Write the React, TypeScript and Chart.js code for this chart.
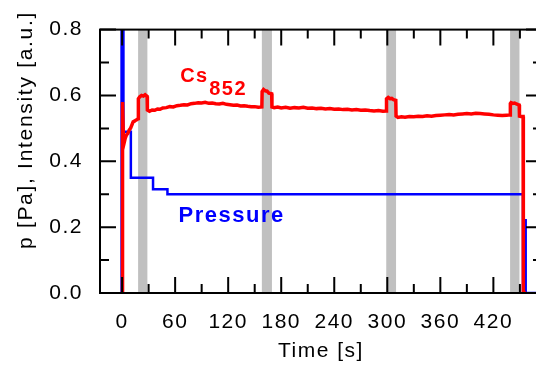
import { useEffect, useRef } from "react";
import { Chart, registerables } from "chart.js";

Chart.register(...registerables);

// ---- data ----
const redTime = [
  0.3, 0.5, 1.5, 2.3, 3.5, 5, 6.5, 8, 9.5, 11, 12.5, 14, 15.5, 17, 18.1,
  18.4, 20, 22, 24, 26, 28.3, 28.6,
  31, 34, 37, 40, 43, 46, 50, 54, 58, 62, 66, 70, 74, 78, 82, 86, 90, 94, 98,
  102, 106, 110, 114, 118, 122, 126, 130, 134, 138, 142, 146, 150, 154, 158.1,
  158.4, 160, 162, 164, 166, 168, 169.2, 169.5,
  172, 176, 180, 185, 190, 195, 200, 205, 210, 215, 220, 225, 230, 235, 240,
  245, 250, 255, 260, 265, 270, 275, 280, 285, 290, 295, 298.8,
  299.1, 301, 303, 305, 307, 309.6, 309.9,
  312, 316, 320, 325, 330, 335, 340, 345, 350, 355, 360, 365, 370, 375, 380,
  385, 390, 395, 400, 405, 410, 415, 420, 425, 430, 435, 438.9,
  439.2, 440, 442, 444, 446, 448, 449.2, 449.5,
  451, 453.6, 453.9, 457,
];
const redIntensity = [
  0, 0.58, 0.465, 0.456, 0.47, 0.48, 0.485, 0.495, 0.5, 0.51, 0.52, 0.522, 0.525, 0.527, 0.53,
  0.59, 0.596, 0.6, 0.598, 0.602, 0.597, 0.556,
  0.552, 0.556, 0.555, 0.559, 0.558, 0.562, 0.563, 0.566, 0.565, 0.569, 0.57, 0.572, 0.571, 0.575, 0.576, 0.578, 0.577, 0.579, 0.576,
  0.577, 0.575, 0.574, 0.576, 0.573, 0.572, 0.57, 0.571, 0.568, 0.569, 0.567, 0.566, 0.566, 0.564, 0.565,
  0.612, 0.618, 0.614, 0.613, 0.607, 0.606, 0.605, 0.565,
  0.563, 0.565, 0.562, 0.564, 0.561, 0.563, 0.562, 0.564, 0.561, 0.562, 0.56, 0.561, 0.559, 0.56, 0.558,
  0.559, 0.557, 0.558, 0.556, 0.557, 0.555, 0.556, 0.554, 0.553, 0.554, 0.552, 0.553,
  0.59, 0.594, 0.59, 0.591, 0.587, 0.585, 0.537,
  0.533, 0.535, 0.534, 0.536, 0.535, 0.537, 0.536, 0.538, 0.537, 0.539, 0.54, 0.541, 0.542, 0.541, 0.543,
  0.544, 0.545, 0.544, 0.546, 0.545, 0.544, 0.543, 0.541, 0.54, 0.539, 0.54, 0.541,
  0.575, 0.578, 0.576, 0.577, 0.574, 0.572, 0.571, 0.537,
  0.536, 0.536, 0, 0,
];

const pressureTime = [-0.6, -0.6, 1.5, 1.5, 9.9, 9.9, 35, 35, 51.3, 51.3, 453.5, 453.5, 456.3, 456.3, 456.8, 475];
const pressureValue = [0, 1.2, 1.2, 0.49, 0.49, 0.35, 0.35, 0.315, 0.315, 0.3, 0.3, 0, 0, 0.225, 0, 0];

const bandStart = [18.1, 158.1, 298.8, 438.9];
const bandEnd = [28.6, 169.5, 309.9, 449.5];

const xMajorTicks = [0, 60, 120, 180, 240, 300, 360, 420];
const xMinorTicks = [30, 90, 150, 210, 270, 330, 390, 450];
const yMajorTicks = [0, 0.2, 0.4, 0.6, 0.8];
const yMinorTicks = [0.1, 0.3, 0.5, 0.7];

const xMin = -25;
const xMax = 475;
const yMin = 0;
const yMax = 0.8;

const yTitle = "p [Pa], Intensity [a.u.]";
const xTitle = "Time [s]";
const csLabel = "Cs";
const csSub = "852";
const csLabelAt = { x: 65.7, y: 0.641 };
const pressureLabel = "Pressure";
const pressureLabelAt = { x: 63.8, y: 0.216 };

// ---- styling ----
const FONT = "'Liberation Sans', Arial, sans-serif";
const RED = "#ff0000";
const BLUE = "#0000ff";
const BAND = "#c0c0c0";
const SPACING = "1.5px";

const decorPlugin = {
  id: "decor",
  beforeDraw(chart: any) {
    chart.ctx.letterSpacing = SPACING;
  },
  beforeDatasetsDraw(chart: any) {
    const { ctx, chartArea, scales } = chart;
    const x = scales.x;
    ctx.save();
    ctx.fillStyle = BAND;
    for (let i = 0; i < bandStart.length; i++) {
      const a = x.getPixelForValue(bandStart[i]);
      const b = x.getPixelForValue(bandEnd[i]);
      ctx.fillRect(a, chartArea.top, b - a, chartArea.bottom - chartArea.top);
    }
    ctx.restore();
  },
  afterDatasetsDraw(chart: any) {
    const { ctx, chartArea, scales } = chart;
    const { left, right, top, bottom } = chartArea;
    const x = scales.x;
    const y = scales.y;
    const major = 16;
    const minor = 9;
    ctx.save();
    ctx.strokeStyle = "#000";
    ctx.lineWidth = 2;
    ctx.beginPath();
    const xt = (v: number, len: number) => {
      const p = x.getPixelForValue(v);
      if (p < left || p > right) return;
      ctx.moveTo(p, bottom);
      ctx.lineTo(p, bottom - len);
      ctx.moveTo(p, top);
      ctx.lineTo(p, top + len);
    };
    const yt = (v: number, len: number) => {
      const p = y.getPixelForValue(v);
      ctx.moveTo(left, p);
      ctx.lineTo(left + len, p);
      ctx.moveTo(right, p);
      ctx.lineTo(right - len, p);
    };
    xMajorTicks.forEach((v) => xt(v, major));
    xMinorTicks.forEach((v) => xt(v, minor));
    yMajorTicks.forEach((v) => yt(v, major));
    yMinorTicks.forEach((v) => yt(v, minor));
    ctx.stroke();
    ctx.strokeRect(left, top, right - left, bottom - top);

    // series labels
    ctx.letterSpacing = SPACING;
    ctx.textAlign = "left";
    ctx.textBaseline = "alphabetic";
    ctx.fillStyle = RED;
    ctx.font = `bold 20px ${FONT}`;
    const cx = x.getPixelForValue(csLabelAt.x);
    const cy = y.getPixelForValue(csLabelAt.y);
    ctx.fillText(csLabel, cx, cy);
    const w = ctx.measureText(csLabel).width;
    ctx.fillText(csSub, cx + w + 0.5, cy + 13.5);

    ctx.fillStyle = BLUE;
    ctx.font = `bold 22px ${FONT}`;
    ctx.fillText(pressureLabel, x.getPixelForValue(pressureLabelAt.x), y.getPixelForValue(pressureLabelAt.y));

    // y axis title
    ctx.fillStyle = "#000";
    ctx.font = `21px ${FONT}`;
    ctx.letterSpacing = "1.7px";
    ctx.translate(31.5, 130);
    ctx.rotate(-Math.PI / 2);
    ctx.textAlign = "center";
    ctx.fillText(yTitle, 0, 0);
    ctx.restore();
  },
};

export default function App() {
  const ref = useRef<HTMLCanvasElement>(null);
  useEffect(() => {
    const canvas = ref.current!;
    const chart = new Chart(canvas, {
      type: "line",
      data: {
        datasets: [
          {
            label: "Cs852",
            data: redTime.map((t, i) => ({ x: t, y: redIntensity[i] })),
            borderColor: RED,
            backgroundColor: RED,
            borderWidth: 3.5,
            pointRadius: 0,
            tension: 0,
            fill: false,
          },
          {
            label: "Pressure",
            data: pressureTime.map((t, i) => ({ x: t, y: pressureValue[i] })),
            borderColor: BLUE,
            backgroundColor: BLUE,
            borderWidth: 2.5,
            pointRadius: 0,
            tension: 0,
            fill: false,
          },
        ],
      },
      options: {
        responsive: false,
        animation: false,
        devicePixelRatio: 1,
        layout: { padding: { left: 0, top: 16, right: 18, bottom: 0 } },
        plugins: { legend: { display: false }, tooltip: { enabled: false } },
        scales: {
          x: {
            type: "linear",
            min: xMin,
            max: xMax,
            grid: { display: false, drawTicks: false },
            border: { display: false },
            afterBuildTicks: (s: any) => {
              s.ticks = xMajorTicks.map((value) => ({ value }));
            },
            afterFit: (s: any) => {
              s.height = 72;
            },
            ticks: {
              autoSkip: false,
              maxRotation: 0,
              padding: 17,
              color: "#000",
              font: { family: FONT, size: 21 },
              callback: (v: any) => String(v),
            },
            title: {
              display: true,
              text: xTitle,
              color: "#000",
              font: { family: FONT, size: 21 },
              padding: { top: 0, bottom: 1 },
            },
          },
          y: {
            type: "linear",
            min: yMin,
            max: yMax,
            grid: { display: false, drawTicks: false },
            border: { display: false },
            afterBuildTicks: (s: any) => {
              s.ticks = yMajorTicks.map((value) => ({ value }));
            },
            afterFit: (s: any) => {
              s.width = 100;
            },
            ticks: {
              padding: 17,
              color: "#000",
              font: { family: FONT, size: 21 },
              callback: (v: any) => Number(v).toFixed(1),
            },
          },
        },
      },
      plugins: [decorPlugin],
    } as any);
    return () => chart.destroy();
  }, []);
  return (
    <div
      style={{
        position: "absolute",
        left: 0,
        top: 0,
        width: 536,
        height: 365,
        overflow: "hidden",
        background: "#fff",
      }}
    >
      <canvas ref={ref} width={560} height={365} style={{ display: "block" }} />
    </div>
  );
}
